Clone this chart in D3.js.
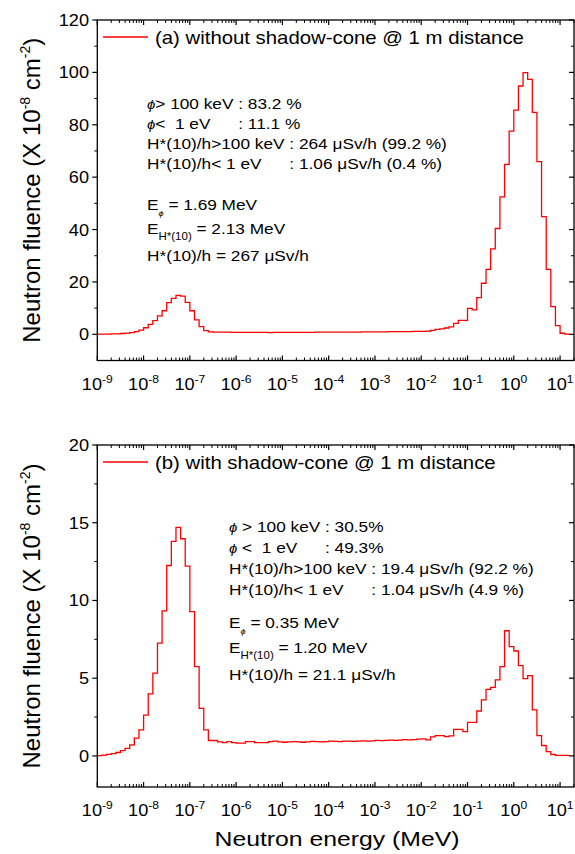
<!DOCTYPE html>
<html>
<head>
<meta charset="utf-8">
<script src="https://cdn.jsdelivr.net/npm/d3@7"></script>
<style>
  body { margin: 0; background: #fff; }
  svg { display: block; }
  text { font-family: "Liberation Sans", Arial, sans-serif; fill: #000; white-space: pre; }
</style>
</head>
<body>
<svg id="chart" width="575" height="854"></svg>
<script>
// histogram bins: 10 per decade starting at 1e-9 MeV
var binsPerDecade = 10;
var firstExp = -9;

// (a) without shadow-cone, fluence per bin (x 1e-8 cm-2)
var phiA = [
  0.05, 0.1, 0.1, 0.15, 0.2, 0.3, 0.45, 0.65, 1.0, 1.6,
  2.5, 3.8, 5.2, 7.0, 9.0, 12.1, 13.7, 14.9, 14.6, 12.2,
  9.0, 5.5, 2.9, 1.4, 0.9, 0.85, 0.8, 0.8, 0.8, 0.75,
  0.75, 0.75, 0.7, 0.7, 0.7, 0.7, 0.7, 0.65, 0.7, 0.7,
  0.7, 0.7, 0.7, 0.75, 0.75, 0.75, 0.75, 0.8, 0.8, 0.8,
  0.8, 0.85, 0.8, 0.8, 0.85, 0.85, 0.85, 0.9, 0.9, 0.9,
  0.9, 0.95, 0.95, 1.0, 1.0, 1.0, 1.05, 1.05, 1.1, 1.1,
  1.15, 1.2, 1.5, 1.9, 2.1, 2.4, 2.8, 4.2, 5.3, 5.3,
  9.9, 9.3, 14.0, 19.5, 24.8, 32.6, 40.4, 52.5, 64.9, 77.6,
  85.6, 94.8, 99.9, 97.3, 84.7, 65.9, 44.9, 24.8, 10.6, 3.3,
  0.4, 0.1
];

// (b) with shadow-cone
var phiB = [
  0.02, 0.05, 0.1, 0.15, 0.22, 0.34, 0.49, 0.71, 1.14, 1.67,
  2.63, 3.99, 5.32, 7.25, 9.33, 12.25, 13.8, 14.7, 13.97, 12.21,
  9.28, 5.74, 3.06, 1.67, 0.99, 0.99, 0.9, 0.86, 0.92, 0.86,
  0.82, 0.82, 0.92, 0.92, 0.86, 0.86, 0.86, 0.92, 0.95, 0.9,
  0.88, 0.9, 0.92, 0.9, 0.88, 0.9, 0.93, 0.92, 0.9, 0.92,
  0.95, 0.93, 0.92, 0.95, 0.95, 0.93, 0.95, 0.97, 0.95, 0.97,
  1.0, 0.98, 1.0, 1.02, 1.0, 1.02, 1.05, 1.03, 1.05, 1.08,
  1.1, 1.03, 1.22, 1.31, 1.31, 1.24, 1.29, 1.71, 1.71, 1.56,
  2.16, 2.16, 2.89, 3.6, 4.28, 4.41, 4.89, 5.74, 8.05, 7.03,
  6.75, 5.81, 4.97, 5.16, 2.96, 1.31, 0.67, 0.28, 0.09, 0.03,
  0.03, 0.03
];

var xDecades = [-9, -8, -7, -6, -5, -4, -3, -2, -1, 0, 1];
var yTicksA = [0, 20, 40, 60, 80, 100, 120];
var yTicksB = [0, 5, 10, 15, 20];

var legendA = "(a) without shadow-cone @ 1 m distance";
var legendB = "(b) with shadow-cone @ 1 m distance";

var notesA = [
  ["\u03d5", "> 100 keV ", ": 83.2 %"],
  ["\u03d5", "<  1 eV", ": 11.1 %"],
  ["", "H*(10)/h>100 keV ", ": 264 \u03bcSv/h (99.2 %)"],
  ["", "H*(10)/h< 1 eV", ": 1.06 \u03bcSv/h (0.4 %)"]
];
var sumsA = ["1.69 MeV", "2.13 MeV", "267 \u03bcSv/h"];

var notesB = [
  ["\u03d5", " > 100 keV ", ": 30.5%"],
  ["\u03d5", " <  1 eV", ": 49.3%"],
  ["", "H*(10)/h>100 keV ", ": 19.4 \u03bcSv/h (92.2 %)"],
  ["", "H*(10)/h< 1 eV", ": 1.04 \u03bcSv/h (4.9 %)"]
];
var sumsB = ["0.35 MeV", "1.20 MeV", "21.1 \u03bcSv/h"];

var svg = d3.select("#chart");
var left = 97.3, right = 574;

var x = d3.scaleLog().domain([1e-9, 20]).range([left, right]);

function edge(i) { return Math.pow(10, firstExp + i / binsPerDecade); }

function stretched(parent, px, py, size, sx) {
  return parent.append("text")
    .attr("transform", "translate(" + px + "," + py + ") scale(" + sx + ",1)")
    .style("font-size", size + "px");
}

function drawPanel(cfg) {
  var g = svg.append("g");
  var y = d3.scaleLinear().domain(cfg.yDomain).range([cfg.bottom, cfg.top]);

  // histogram as steps
  var pts = cfg.data.map(function(v, i) { return [edge(i), v]; });
  pts.push([edge(cfg.data.length), cfg.data[cfg.data.length - 1]]);
  var line = d3.line()
    .x(function(d) { return x(d[0]); })
    .y(function(d) { return y(d[1]); })
    .curve(d3.curveStepAfter);
  g.append("path").datum(pts)
    .attr("d", line)
    .attr("fill", "none")
    .attr("stroke", "#ff0000")
    .attr("stroke-width", 1.3);

  // x ticks, inward on bottom and top
  var minor = [];
  xDecades.forEach(function(e) {
    for (var k = 2; k <= 9; k++) {
      var v = k * Math.pow(10, e);
      if (v <= 20) minor.push(v);
    }
  });
  var major = xDecades.map(function(e) { return Math.pow(10, e); });
  [[cfg.bottom, -1], [cfg.top, 1]].forEach(function(s) {
    g.selectAll(null).data(major).enter().append("line")
      .attr("x1", function(d) { return x(d); }).attr("x2", function(d) { return x(d); })
      .attr("y1", s[0]).attr("y2", s[0] + s[1] * 5)
      .attr("stroke", "#000").attr("stroke-width", 1.2);
    g.selectAll(null).data(minor).enter().append("line")
      .attr("x1", function(d) { return x(d); }).attr("x2", function(d) { return x(d); })
      .attr("y1", s[0]).attr("y2", s[0] + s[1] * 3)
      .attr("stroke", "#000").attr("stroke-width", 1);
  });

  // x tick labels 10^n
  xDecades.forEach(function(e) {
    var t = g.append("text")
      .attr("transform", "translate(" + x(Math.pow(10, e)) + "," + (cfg.bottom + 29) + ") scale(1.1,1)")
      .attr("text-anchor", "middle")
      .style("font-size", "16.5px");
    t.append("tspan").text("10");
    t.append("tspan").attr("dy", -7).style("font-size", "11px").text(e);
  });

  // y ticks, outward on the left, inward on the right
  var yMinor = d3.range(cfg.yTicks[0], cfg.yDomain[1] + 1e-9, cfg.yMinorStep)
    .filter(function(v) { return cfg.yTicks.indexOf(v) < 0; });
  [[left, -1], [right, -1]].forEach(function(s, j) {
    var dir = j == 0 ? -1 : -1;
    g.selectAll(null).data(cfg.yTicks).enter().append("line")
      .attr("x1", s[0]).attr("x2", s[0] + dir * 5)
      .attr("y1", function(d) { return y(d); }).attr("y2", function(d) { return y(d); })
      .attr("stroke", "#000").attr("stroke-width", 1.2);
    g.selectAll(null).data(yMinor).enter().append("line")
      .attr("x1", s[0]).attr("x2", s[0] + dir * 3)
      .attr("y1", function(d) { return y(d); }).attr("y2", function(d) { return y(d); })
      .attr("stroke", "#000").attr("stroke-width", 1);
  });
  cfg.yTicks.forEach(function(v) {
    stretched(g, 89, y(v) + 6, 16.5, 1.1)
      .attr("text-anchor", "end")
      .text(v);
  });

  // frame
  g.append("rect")
    .attr("x", left).attr("y", cfg.top)
    .attr("width", right - left).attr("height", cfg.bottom - cfg.top)
    .attr("fill", "none").attr("stroke", "#000").attr("stroke-width", 1.3);

  // y axis title
  var yl = g.append("text")
    .attr("transform", "translate(40," + ((cfg.top + cfg.bottom) / 2) + ") rotate(-90)")
    .attr("text-anchor", "middle")
    .style("font-size", "24px");
  yl.append("tspan").text("Neutron fluence (X 10");
  yl.append("tspan").attr("dy", -10).style("font-size", "14px").text("-8");
  yl.append("tspan").attr("dy", 10).text(" cm");
  yl.append("tspan").attr("dy", -10).style("font-size", "14px").text("-2");
  yl.append("tspan").attr("dy", 10).text(")");

  // legend
  g.append("line")
    .attr("x1", 103).attr("x2", 148)
    .attr("y1", cfg.top + 17).attr("y2", cfg.top + 17)
    .attr("stroke", "#ff0000").attr("stroke-width", 1.3);
  stretched(g, 155, cfg.top + 24, 17.7, 1.15).text(cfg.legend);

  // notes with aligned colons
  var sx = 1.15, fs = 15;
  var colX = [];
  cfg.notes.forEach(function(r, i) {
    var t = stretched(g, cfg.noteX, cfg.rows[i], fs, sx);
    if (r[0]) t.append("tspan").style("font-style", "italic").style("font-size", "13px").text(r[0]);
    t.append("tspan").text(r[1]);
    if (i % 2 == 0) colX[i / 2] = cfg.noteX + t.node().getComputedTextLength() * sx;
  });
  cfg.notes.forEach(function(r, i) {
    stretched(g, colX[Math.floor(i / 2)], cfg.rows[i], fs, sx).text(r[2]);
  });

  var e1 = stretched(g, cfg.noteX, cfg.rows[4], fs, sx);
  e1.append("tspan").text("E");
  e1.append("tspan").attr("dy", 6).style("font-size", "8px").style("font-style", "italic").text("\u03d5");
  e1.append("tspan").attr("dy", -6).text(" = " + cfg.sums[0]);

  var e2 = stretched(g, cfg.noteX, cfg.rows[5], fs, sx);
  e2.append("tspan").text("E");
  e2.append("tspan").attr("dy", 6).style("font-size", "10px").text("H*(10)");
  e2.append("tspan").attr("dy", -6).text(" = " + cfg.sums[1]);

  stretched(g, cfg.noteX, cfg.rows[6], fs, sx).text("H*(10)/h = " + cfg.sums[2]);
}

drawPanel({
  top: 20, bottom: 360.5, yDomain: [-10, 120], yTicks: yTicksA, yMinorStep: 10,
  data: phiA, legend: legendA, notes: notesA, sums: sumsA,
  noteX: 147, rows: [109, 129, 149, 169, 210, 234, 261]
});

drawPanel({
  top: 445, bottom: 787, yDomain: [-2, 20], yTicks: yTicksB, yMinorStep: 2.5,
  data: phiB, legend: legendB, notes: notesB, sums: sumsB,
  noteX: 229, rows: [532, 553, 574, 595, 628, 653, 680]
});

stretched(svg, 337, 846, 21, 1.18)
  .attr("text-anchor", "middle")
  .text("Neutron energy (MeV)");
</script>
</body>
</html>
